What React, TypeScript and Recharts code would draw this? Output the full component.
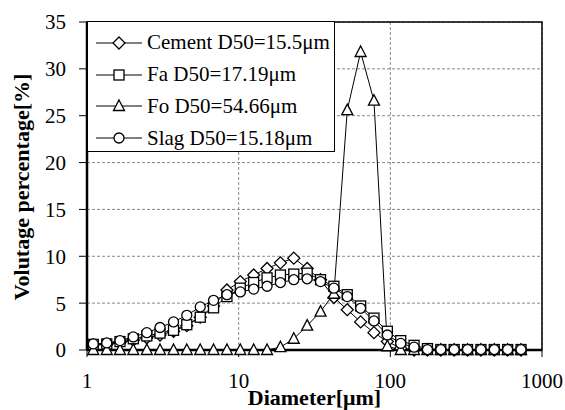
import React from 'react';
import { LineChart, Line, XAxis, YAxis, CartesianGrid, Legend, ReferenceArea, Label } from 'recharts';

const diameters = [1.10, 1.35, 1.65, 2.02, 2.48, 3.03, 3.72, 4.55, 5.58, 6.83, 8.37, 10.25, 12.56, 15.39, 18.85, 23.09, 28.29, 34.65, 42.45, 52.0, 63.7, 78.0, 95.6, 117.1, 143.4, 175.7, 215.2, 263.6, 322.9, 395.6, 484.6, 593.6, 727.2];
const cement = [0.55, 0.6, 0.8, 1.05, 1.3, 1.6, 2.0, 2.6, 3.5, 4.7, 6.4, 7.3, 8.0, 8.7, 9.3, 9.8, 8.7, 7.5, 5.6, 4.3, 3.0, 1.85, 0.9, 0.2, 0, 0, 0, 0, 0, 0, 0, 0, 0];
const fa = [0.6, 0.65, 0.9, 1.2, 1.5, 1.8, 2.1, 2.7, 3.5, 4.5, 5.7, 6.6, 7.2, 7.7, 8.0, 8.1, 8.2, 7.5, 6.8, 5.9, 4.7, 3.4, 2.0, 1.0, 0.5, 0.15, 0.05, 0.05, 0.05, 0.05, 0.05, 0.05, 0.05];
const fo = [0, 0, 0, 0, 0, 0, 0, 0, 0, 0, 0, 0, 0, 0, 0.3, 1.2, 2.6, 4.1, 6.0, 25.6, 31.8, 26.6, 0.4, 0, 0, 0, 0, 0, 0, 0, 0, 0, 0];
const slag = [0.65, 0.75, 1.0, 1.4, 1.85, 2.4, 3.0, 3.7, 4.6, 5.3, 5.9, 6.2, 6.5, 6.8, 7.2, 7.5, 7.6, 7.3, 6.6, 5.7, 4.45, 3.1, 1.6, 0.7, 0.3, 0.05, 0.05, 0.05, 0.05, 0.05, 0.05, 0.05, 0.05];

const xTicks = [1, 10, 100, 1000];
const yTicks = [0, 5, 10, 15, 20, 25, 30, 35];

const seriesNames = ['Cement D50=15.5μm', 'Fa D50=17.19μm', 'Fo D50=54.66μm', 'Slag D50=15.18μm'];
const seriesKeys = ['cement', 'fa', 'fo', 'slag'];
const seriesShapes = ['diamond', 'square', 'triangle', 'circle'];

const data = diameters.map((d, i) => ({ d, cement: cement[i], fa: fa[i], fo: fo[i], slag: slag[i] }));

const FONT = "'Liberation Serif', 'Times New Roman', serif";

function Marker({ shape, cx, cy }: { shape: string; cx: number; cy: number }) {
  const common = { fill: '#fff', stroke: '#000', strokeWidth: 1.3 };
  if (shape === 'diamond') {
    const r = 6;
    return <polygon points={`${cx},${cy - r} ${cx + r},${cy} ${cx},${cy + r} ${cx - r},${cy}`} {...common} />;
  }
  if (shape === 'square') {
    const r = 5;
    return <rect x={cx - r} y={cy - r} width={2 * r} height={2 * r} {...common} />;
  }
  if (shape === 'triangle') {
    return <polygon points={`${cx},${cy - 6} ${cx + 5.5},${cy + 4.5} ${cx - 5.5},${cy + 4.5}`} {...common} />;
  }
  return <circle cx={cx} cy={cy} r={5} {...common} />;
}

const makeDot = (shape: string) => (props: any) => {
  const { cx, cy, index } = props;
  if (cx == null || cy == null) return <g key={`e-${shape}-${index}`} />;
  return (
    <g key={`${shape}-${index}`}>
      <Marker shape={shape} cx={cx} cy={cy} />
    </g>
  );
};

function LegendBox() {
  return (
    <div
      style={{
        width: 248,
        height: 131,
        border: '1.5px solid #000',
        background: '#fff',
        fontFamily: FONT,
        fontSize: 21,
        color: '#000',
        paddingTop: 5,
        boxSizing: 'border-box',
      }}
    >
      {seriesNames.map((name, i) => (
        <div key={name} style={{ display: 'flex', alignItems: 'center', height: 31.8, whiteSpace: 'nowrap' }}>
          <svg width={57} height={20} style={{ flex: 'none' }}>
            <line x1={8} y1={10} x2={54} y2={10} stroke="#000" strokeWidth={1} />
            <Marker shape={seriesShapes[i]} cx={31} cy={10} />
          </svg>
          <span style={{ marginLeft: 2 }}>{name}</span>
        </div>
      ))}
    </div>
  );
}

const yTitle = () => (
  <text
    x={0}
    y={0}
    transform="translate(29 187) rotate(-90)"
    textAnchor="middle"
    fontFamily={FONT}
    fontSize={22}
    fontWeight="bold"
    fill="#000"
  >
    Volutage percentage[%]
  </text>
);

export default function App() {
  return (
    <div style={{ position: 'absolute', left: 0, top: 0, background: '#fff' }}>
      <LineChart width={565} height={410} data={data} margin={{ top: 22, right: 23, bottom: 0, left: 0 }}>
        <CartesianGrid stroke="#8a8a8a" strokeDasharray="3 2" strokeWidth={1} />
        <ReferenceArea x1={1} x2={1000} y1={0} y2={35} fill="none" stroke="#000" strokeWidth={1.5} />
        <XAxis
          dataKey="d"
          type="number"
          scale="log"
          domain={[1, 1000]}
          ticks={xTicks}
          tickSize={7}
          tickMargin={16}
          height={60}
          axisLine={{ stroke: '#000', strokeWidth: 2.5 }}
          tickLine={{ stroke: '#000', strokeWidth: 1 }}
          tick={{ fill: '#000', fontFamily: FONT, fontSize: 21 }}
          interval={0}
        >
          <Label
            value="Diameter[μm]"
            position="insideBottom"
            offset={5}
            style={{ fontFamily: FONT, fontSize: 22, fontWeight: 'bold', fill: '#000' }}
          />
        </XAxis>
        <YAxis
          type="number"
          domain={[0, 35]}
          ticks={yTicks}
          width={87}
          tickSize={8}
          tickMargin={13}
          axisLine={{ stroke: '#000', strokeWidth: 2.5 }}
          tickLine={{ stroke: '#000', strokeWidth: 1 }}
          tick={{ fill: '#000', fontFamily: FONT, fontSize: 21 }}
          interval={0}
          label={yTitle}
        />
        {seriesKeys.map((k, i) => (
          <Line
            key={k}
            dataKey={k}
            name={seriesNames[i]}
            type="linear"
            stroke="#000"
            strokeWidth={1}
            dot={makeDot(seriesShapes[i])}
            activeDot={false}
            isAnimationActive={false}
          />
        ))}
        <Legend
          layout="horizontal"
          verticalAlign="middle"
          align="center"
          content={() => <LegendBox />}
          wrapperStyle={{ position: 'absolute', left: 87, top: 21, width: 'auto', height: 'auto' }}
        />
      </LineChart>
    </div>
  );
}
